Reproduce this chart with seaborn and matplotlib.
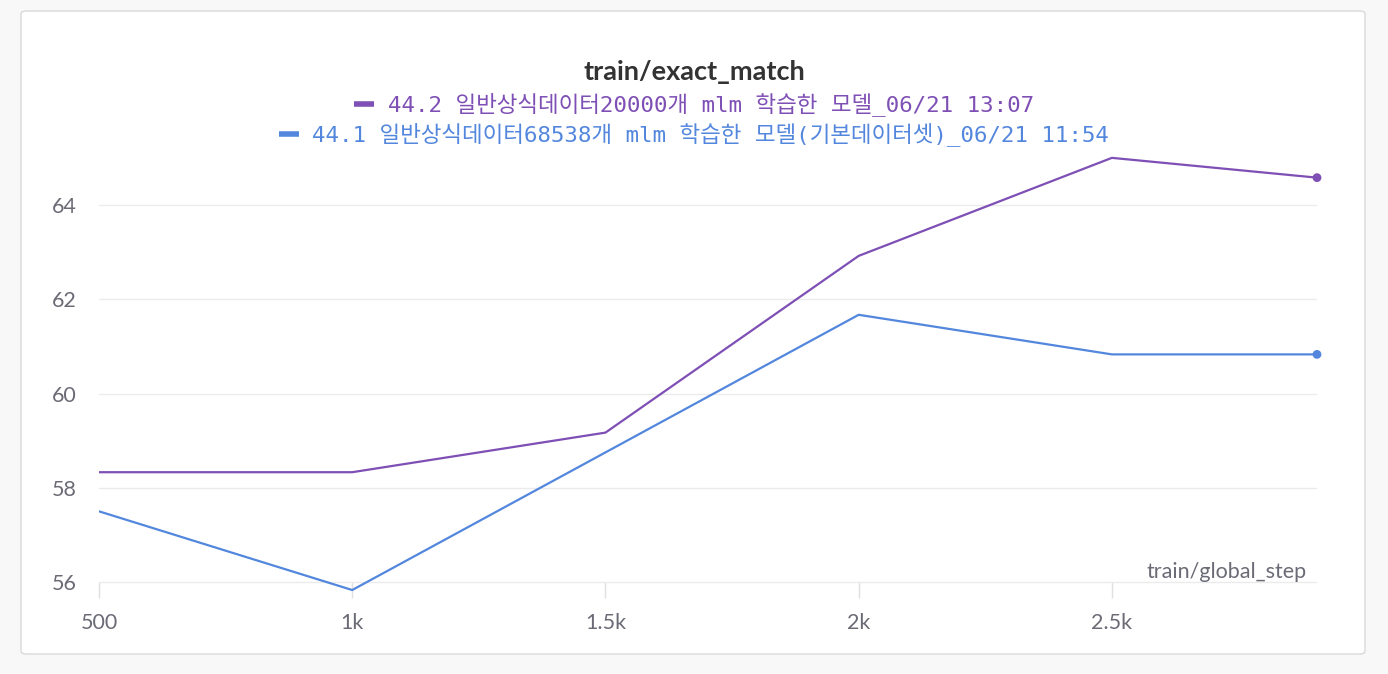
import numpy as np
import pandas as pd
import matplotlib
matplotlib.use('Agg')
import matplotlib.pyplot as plt
from matplotlib.patches import FancyBboxPatch
from matplotlib.font_manager import FontProperties
import seaborn as sns

# data
RUN_A = "44.2 일반상식데이터20000개 mlm 학습한 모델_06/21 13:07"
RUN_B = "44.1 일반상식데이터68538개 mlm 학습한 모델(기본데이터셋)_06/21 11:54"
steps_a = [500, 1000, 1500, 2000, 2500, 2905]
match_a = [58.33, 58.33, 59.17, 62.92, 65.0, 64.58]
steps_b = [500, 1000, 2000, 2500, 2905]
match_b = [57.5, 55.83, 61.67, 60.83, 60.83]

x_ticks = [500, 1000, 1500, 2000, 2500]
x_tick_labels = ["500", "1k", "1.5k", "2k", "2.5k"]
y_ticks = [56, 58, 60, 62, 64]

COLORS = {RUN_A: "#7e4fb5", RUN_B: "#5387dd"}
GRAY = "#6b6b76"

df = pd.concat([
    pd.DataFrame({"step": steps_a, "value": match_a, "run": RUN_A}),
    pd.DataFrame({"step": steps_b, "value": match_b, "run": RUN_B}),
])
last = df.groupby("run", sort=False).tail(1)

sns.set_theme(style="white")
plt.rcParams["font.family"] = ["Lato", "DejaVu Sans"]

fig = plt.figure(figsize=(13.88, 6.74), dpi=100)
fig.patch.set_facecolor("#f8f8f8")
W, H = 1388, 674
# white card behind everything
card = FancyBboxPatch((21 / W, 20 / H), 1344 / W, 643 / H,
                      boxstyle="round,pad=0,rounding_size=0.004",
                      transform=fig.transFigure, facecolor="white",
                      edgecolor="#d9d9d9", linewidth=1.0, zorder=-5)
fig.patches.append(card)

ax = fig.add_axes([99 / W, 80.2 / H, 1218 / W, 438.3 / H])
ax.set_facecolor("none")

sns.lineplot(data=df, x="step", y="value", hue="run", palette=COLORS,
             linewidth=1.6, ax=ax, legend=True)
# dot on the latest point of each run
sns.scatterplot(data=last, x="step", y="value", hue="run", palette=COLORS,
                s=40, edgecolor="none", ax=ax, legend=False, zorder=5,
                clip_on=False)
handles, labels = ax.get_legend_handles_labels()
ax.get_legend().remove()

ax.set_xlim(500, 2905)
ax.set_ylim(55.75, 65.05)
ax.set_xticks(x_ticks)
ax.set_xticklabels(x_tick_labels)
ax.set_yticks(y_ticks)
ax.set_xlabel("")
ax.set_ylabel("")
ax.grid(axis="y", color="#ebebeb", linewidth=1.0)
ax.set_axisbelow(True)
for s in ax.spines.values():
    s.set_visible(False)
ax.spines["bottom"].set_position(("data", 56))
ax.tick_params(axis="x", length=11.5, width=1, color="#e0e0e0", pad=11,
               labelsize=15.5, labelcolor=GRAY, bottom=True)
ax.tick_params(axis="y", length=0, pad=16, labelsize=15.5, labelcolor=GRAY)

fig.text(1307 / W, (H - 578) / H, "train/global_step", ha="right",
         va="baseline", fontsize=15.5, color=GRAY)
fig.text(0.5, (H - 72) / H, "train/exact_match", ha="center", va="center",
         fontsize=19.5, fontweight="bold", color="#333333")

mono = FontProperties(family=["DejaVu Sans Mono", "Noto Sans CJK KR"], size=16.2)
for i, yrow in enumerate([105, 135]):
    leg = fig.legend([handles[i]], [labels[i]], loc="center",
                     bbox_to_anchor=(0.5, (H - yrow) / H), frameon=False,
                     prop=mono, handlelength=0.9, handletextpad=0.6,
                     labelcolor="linecolor", borderpad=0, borderaxespad=0)
    for ln in leg.legend_handles:
        ln.set_linewidth(4)
        ln.set_solid_capstyle("butt")

fig.savefig("out.png", dpi=100)
